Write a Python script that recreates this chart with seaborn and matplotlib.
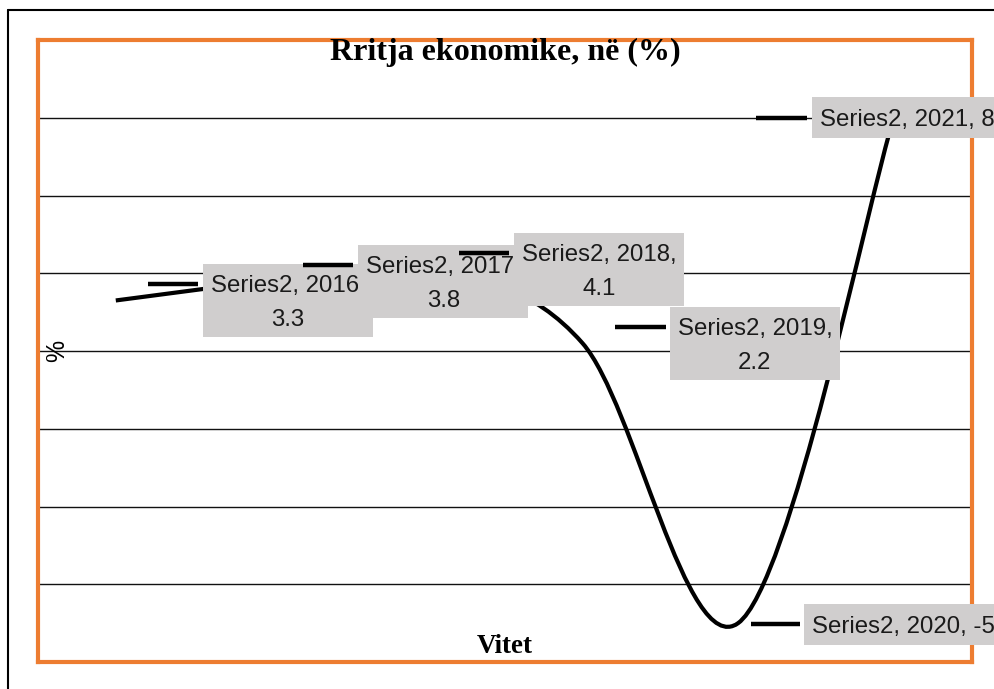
import numpy as np
import matplotlib
matplotlib.use("Agg")
import matplotlib.pyplot as plt
import matplotlib.transforms as mtransforms
from matplotlib.path import Path
from matplotlib.patches import PathPatch, Rectangle
from matplotlib.lines import Line2D
import seaborn as sns

# data
years = [2016, 2017, 2018, 2019, 2020, 2021]
growth = [3.3, 3.8, 4.1, 2.2, -5, 8]
series_name = "Series2"
label_breaks = ["\n", "\n", ",\n", ",\n", ", ", ", "]
grid_levels = [-4, -2, 0, 2, 4, 6, 8]
title = "Rritja ekonomike, në (%)"
x_title = "Vitet"
y_title = "%"

# label layout in pixels relative to each point (x right, y down):
# box dx, box dy, box w, box h, key x0, key x1, key dy
label_layout = [
    (87, -36, 170, 73, 32, 82, -16),
    (87, -36, 170, 73, 32, 82, -16),
    (87, -36, 170, 73, 32, 82, -16),
    (87, -36, 170, 73, 32, 83, -16),
    (66, -19, 205, 41, 13, 62, 1),
    (-82, -21, 205, 41, -138, -87, 0),
]

W, H = 994, 689
sns.set_theme(style="white")
plt.rcParams["font.family"] = ["Liberation Sans", "DejaVu Sans"]
plt.rcParams["text.color"] = "black"

fig = plt.figure(figsize=(W / 100, H / 100), dpi=100)
fig.patch.set_facecolor("white")

left, right, top, bottom = 38, 971.5, 40, 662
ax = fig.add_axes([left / W, (H - bottom) / H, (right - left) / W, (bottom - top) / H])
ax.set_xlim(years[0] - 0.5, years[-1] + 0.5)
ax.set_ylim(-6, 10)
ax.set_xticks([])
ax.set_yticks(grid_levels)
ax.set_yticklabels([])
ax.tick_params(length=0)
ax.yaxis.grid(True, color="#111111", linewidth=1.0)
ax.set_facecolor("white")
for sp in ax.spines.values():
    sp.set_color("#ED7D31")
    sp.set_linewidth(3)
    sp.set_visible(True)

# smoothed line (Bezier segments through the points, like Excel's smoothing)
pts = np.column_stack([years, growth]).astype(float)
n = len(pts)
verts = [pts[0]]
codes = [Path.MOVETO]
for i in range(n - 1):
    p_prev = pts[i - 1] if i > 0 else pts[i]
    p_next2 = pts[i + 2] if i + 2 < n else pts[i + 1]
    c1 = pts[i] + (pts[i + 1] - p_prev) / 6
    c2 = pts[i + 1] - (p_next2 - pts[i]) / 6
    verts += [c1, c2, pts[i + 1]]
    codes += [Path.CURVE4] * 3
ax.add_patch(PathPatch(Path(verts, codes), facecolor="none", edgecolor="black",
                       linewidth=3, capstyle="butt", zorder=3))

fig.canvas.draw()
ident = mtransforms.IdentityTransform()
fs = 17.3

# data labels with legend key
for i, (yr, v) in enumerate(zip(years, growth)):
    bx, by, bw, bh, k0, k1, ky = label_layout[i]
    X, Yd = ax.transData.transform((yr, v))
    box_left = X + bx
    box_top = Yd - by          # display coords, y up
    fig.add_artist(Rectangle((box_left, box_top - bh), bw, bh, transform=ident,
                             facecolor="#D0CECE", edgecolor="none", zorder=10 + 3 * i))
    txt = f"{series_name}, {yr}{label_breaks[i]}{v:g}"
    lines = txt.split("\n")
    if len(lines) == 2:
        fig.text(box_left + 8, box_top - 28, lines[0], transform=ident,
                 ha="left", va="baseline", fontsize=fs, color="#1a1a1a",
                 zorder=11 + 3 * i)
        fig.text(box_left + bw / 2, box_top - 62, lines[1], transform=ident,
                 ha="center", va="baseline", fontsize=fs, color="#1a1a1a",
                 zorder=11 + 3 * i)
    else:
        fig.text(box_left + 8, box_top - 29, txt, transform=ident,
                 ha="left", va="baseline", fontsize=fs, color="#1a1a1a",
                 zorder=11 + 3 * i)
    fig.add_artist(Line2D([X + k0, X + k1], [Yd - ky, Yd - ky], transform=ident,
                          color="black", linewidth=3.2, solid_capstyle="butt",
                          zorder=12 + 3 * i))

# titles
fig.text(505 / W, (H - 60) / H, title, ha="center", va="baseline",
         fontsize=23, fontweight="bold", family="Liberation Serif", zorder=30)
fig.text(505 / W, (H - 653) / H, x_title, ha="center", va="baseline",
         fontsize=19.5, fontweight="bold", family="Liberation Serif", zorder=30)
fig.text(57 / W, (H - 351) / H, y_title, ha="center", va="center", rotation=90,
         fontsize=18, zorder=30)

# outer frame
fig.add_artist(Line2D([8 / W, 8 / W], [0, (H - 10) / H], transform=fig.transFigure,
                      color="black", linewidth=1.5))
fig.add_artist(Line2D([8 / W, 1], [(H - 10) / H, (H - 10) / H], transform=fig.transFigure,
                      color="black", linewidth=1.5))

fig.savefig("out.png", dpi=100)
